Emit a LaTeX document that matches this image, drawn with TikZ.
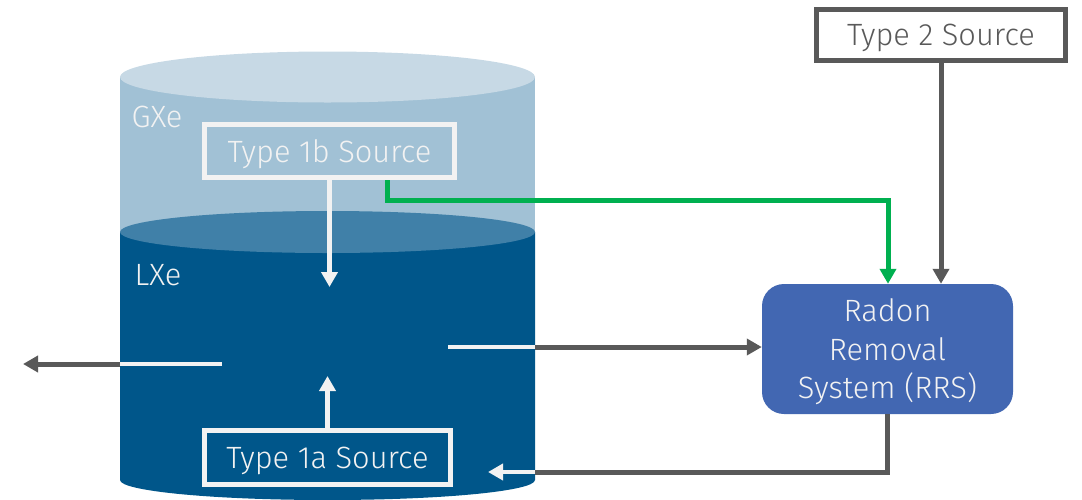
\documentclass[tikz,border=0pt]{standalone}
\usepackage{fontspec}
\setmainfont{Fira Sans}[UprightFont={* Light}]
\usetikzlibrary{arrows.meta,calc}
\definecolor{lid}{HTML}{C7D9E5}
\definecolor{gxe}{HTML}{A1C1D5}
\definecolor{surf}{HTML}{4080A8}
\definecolor{lxe}{HTML}{00568A}
\definecolor{rrsc}{HTML}{4267B2}
\definecolor{dgray}{HTML}{595959}
\definecolor{wht}{HTML}{F2F2F2}
\definecolor{grn}{HTML}{00B050}
\tikzset{
  srcbox/.style={draw=wht, line width=5pt, minimum width=#1, minimum height=53pt, inner sep=0pt, text depth=-2pt, text=wht, font=\fontsize{30.8}{34}\selectfont},
  lbl/.style={text=wht, font=\fontsize{30.8}{34}\selectfont, inner sep=0pt},
  gline/.style={draw=dgray, line width=5pt},
  garrow/.style={gline, -{Triangle[length=15pt,width=16pt]}},
  wline/.style={draw=wht, line width=4.5pt},
  warrow/.style={wline, -{Triangle[length=15pt,width=16pt]}},
  grarrow/.style={draw=grn, line width=5pt, -{Triangle[length=15pt,width=16pt]}},
}
\begin{document}
\begin{tikzpicture}[x=1pt,y=-1pt]
\useasboundingbox (0,0) rectangle (1082,499);
% cylinder
\fill[gxe] (120,77) rectangle (535,232);
\fill[lxe] (120,232) -- (120,480) arc[start angle=180,end angle=360,x radius=207.5pt,y radius=20pt] -- (535,232) -- cycle;
\fill[surf] (327.5,232) ellipse[x radius=207.5pt,y radius=21pt];
\fill[lid] (327.5,77) ellipse[x radius=207.5pt,y radius=25.5pt];
\node[lbl] (gxelbl) at (157,117) {GXe};
\node[lbl] (lxelbl) at (158,275) {LXe};
% boxes
\node[srcbox=250pt] (t1b) at (329.5,151) {Type 1b Source};
\node[srcbox=246pt, minimum height=54pt] (t1a) at (327.5,457.5) {Type 1a Source};
\node[srcbox=249pt, minimum height=51pt, draw=dgray, text=dgray] (t2) at (941,35) {Type 2 Source};
\node[fill=rrsc, rounded corners=22pt, minimum width=251pt, minimum height=130pt, inner sep=0pt, text depth=-2.5pt, text=wht, align=center, font=\fontsize{30.8}{38.5}\selectfont] (rrs) at (887.5,349) {Radon\\Removal\\System (RRS)};
% coordinates
\coordinate (t1bTip) at (329.5,287);
\coordinate (t1aTip) at (327.5,376);
\coordinate (gc) at (387,200);
\coordinate (gt) at (888,200);
\coordinate (rin) at (448,347);
\coordinate (redge) at (535,347);
\coordinate (lin) at (222,364);
\coordinate (ledge) at (120,364);
\coordinate (lout) at (23,364);
\coordinate (ret) at (535,472);
\coordinate (retTip) at (488,472);
% connectors
\draw[warrow] (t1b.south) -- (t1bTip);
\draw[warrow] (t1a.north) -- (t1aTip);
\draw[grarrow] (t1b.south -| gc) -- (gc) -- (gt) -- (rrs.north -| gt);
\draw[garrow] (t2.south) -- (rrs.north -| t2.south);
\draw[wline] (rin) -- (redge);
\draw[garrow] (redge) -- (rrs.west |- redge);
\draw[wline] (lin) -- (ledge);
\draw[garrow] (ledge) -- (lout);
\draw[gline] (rrs.south) |- (ret);
\draw[warrow] (ret) -- (retTip);
\end{tikzpicture}
\end{document}
